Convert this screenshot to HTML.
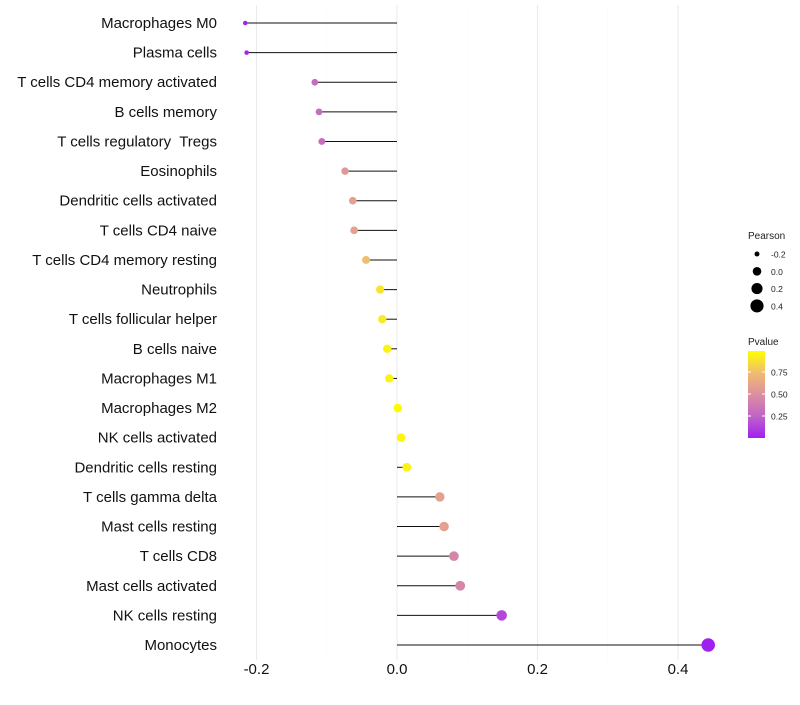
<!DOCTYPE html>
<html><head><meta charset="utf-8"><style>
body{margin:0;background:#fff;font-family:"Liberation Sans",sans-serif}
text{white-space:pre}
</style></head><body>
<svg id="c" width="800" height="700" xmlns="http://www.w3.org/2000/svg">
<defs><linearGradient id="pg" x1="0" y1="1" x2="0" y2="0">
<stop offset="0" stop-color="#A020F0"/><stop offset="0.25" stop-color="#C064C8"/><stop offset="0.5" stop-color="#DC8FA0"/><stop offset="0.75" stop-color="#F0BC70"/><stop offset="1" stop-color="#FFFF00"/></linearGradient></defs>
</svg>
<script>
const categories=["Macrophages M0","Plasma cells","T cells CD4 memory activated","B cells memory","T cells regulatory  Tregs","Eosinophils","Dendritic cells activated","T cells CD4 naive","T cells CD4 memory resting","Neutrophils","T cells follicular helper","B cells naive","Macrophages M1","Macrophages M2","NK cells activated","Dendritic cells resting","T cells gamma delta","Mast cells resting","T cells CD8","Mast cells activated","NK cells resting","Monocytes"];
const pearson=[-0.216,-0.214,-0.117,-0.111,-0.107,-0.074,-0.063,-0.061,-0.044,-0.024,-0.021,-0.014,-0.011,0.001,0.006,0.014,0.061,0.067,0.081,0.090,0.149,0.443];
const pvalue=[0.01,0.02,0.3,0.3,0.3,0.55,0.6,0.6,0.75,0.9,0.92,0.95,0.95,0.99,0.97,0.95,0.6,0.6,0.45,0.45,0.15,0.001];
const xTicks=[-0.2,0,0.2,0.4];
const xTickLabels=["-0.2","0.0","0.2","0.4"];
const minorTicks=[-0.1,0.1,0.3];
const sizeLegend=[-0.2,0,0.2,0.4];
const pTicks=[0.25,0.5,0.75];

const svg=document.getElementById('c');
const NS="http://www.w3.org/2000/svg";
const x=v=>397+v*702.5;
const y=i=>23+i*(622/21);
const rad=v=>Math.sqrt(Math.max(2.5,18.5+62*v));
const stops=[[0,[160,32,240]],[0.25,[192,100,200]],[0.5,[220,143,160]],[0.75,[240,188,112]],[1,[255,255,0]]];
function col(p){for(let k=1;k<stops.length;k++){if(p<=stops[k][0]){const a=stops[k-1],b=stops[k],t=(p-a[0])/(b[0]-a[0]);return 'rgb('+a[1].map((c,j)=>Math.round(c+(b[1][j]-c)*t)).join(',')+')';}}return 'rgb(255,255,0)';}
function mk(t,attrs,parent){const e=document.createElementNS(NS,t);for(const k in attrs)e.setAttribute(k,attrs[k]);(parent||svg).appendChild(e);return e;}
const grid=mk('g',{});


minorTicks.forEach(v=>mk('line',{x1:x(v),x2:x(v),y1:5,y2:660,stroke:'#f7f7f7','stroke-width':0.6},grid));
xTicks.forEach((v,i)=>{mk('line',{x1:x(v),x2:x(v),y1:5,y2:660,stroke:'#ebebeb','stroke-width':1.1},grid);
const t=mk('text',{x:x(v),y:674,'text-anchor':'middle','font-size':15,fill:'#111'});t.textContent=xTickLabels[i];

});
categories.forEach((c,i)=>{
const t=mk('text',{x:217,y:y(i)+5,'text-anchor':'end','font-size':15,fill:'#111'});t.textContent=c;


const l=mk('line',{x1:x(0),x2:x(pearson[i]),y1:y(i),y2:y(i),stroke:'#111','stroke-width':1});


const d=mk('circle',{cx:x(pearson[i]),cy:y(i),r:rad(pearson[i]),fill:col(pvalue[i])});


});
const lg=mk('g',{});


mk('text',{x:748,y:239,'font-size':10,fill:'#222'},lg).textContent='Pearson';
sizeLegend.forEach((v,i)=>{const cy=254+i*17.3;mk('circle',{cx:757,cy:cy,r:rad(v),fill:'#000'},lg);
mk('text',{x:771,y:cy+3.5,'font-size':8.5,fill:'#222'},lg).textContent=v.toFixed(1);});
const cg=mk('g',{});


mk('text',{x:748,y:345,'font-size':10,fill:'#222'},cg).textContent='Pvalue';
mk('rect',{x:748,y:351,width:17,height:87,fill:'url(#pg)'},cg);
pTicks.forEach(p=>{const yy=438-p*88;mk('line',{x1:748,x2:751,y1:yy,y2:yy,stroke:'#fff'},cg);mk('line',{x1:762,x2:765,y1:yy,y2:yy,stroke:'#fff'},cg);
mk('text',{x:771,y:yy+3.5,'font-size':8.5,fill:'#222'},cg).textContent=p.toFixed(2);});
</script>
</body></html>
